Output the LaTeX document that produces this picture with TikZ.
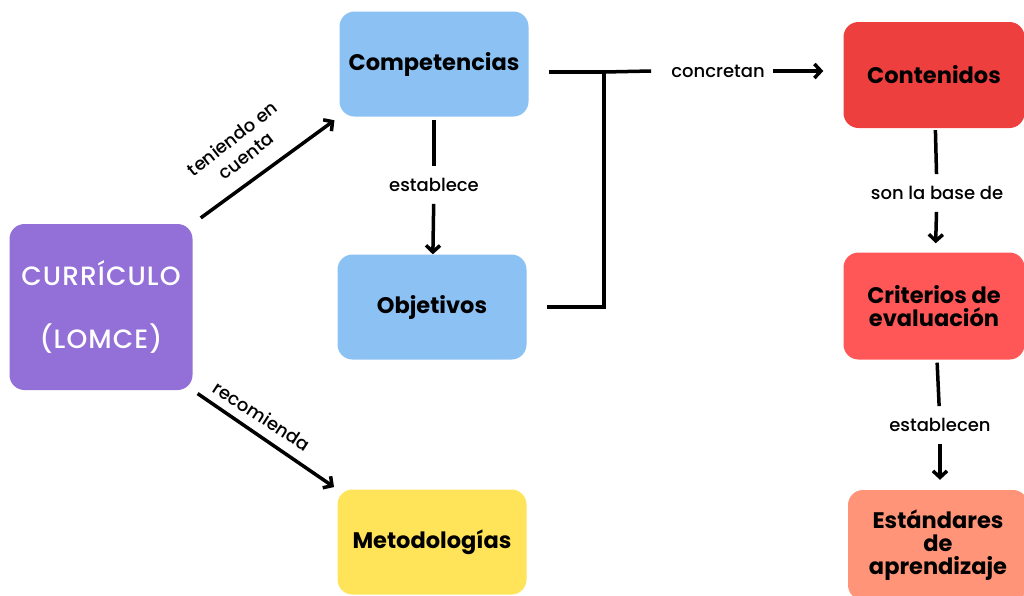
\documentclass[tikz,border=0pt]{standalone}
\usepackage{fontspec}
\setmainfont{Poppins}
\newfontfamily\medfont{Poppins Medium}
\usetikzlibrary{positioning, arrows.meta}

\definecolor{curripurple}{HTML}{936FD8}
\definecolor{compblue}{HTML}{8CC1F4}
\definecolor{metyellow}{HTML}{FFE45A}
\definecolor{contred}{HTML}{EE3F3F}
\definecolor{critred}{HTML}{FF5757}
\definecolor{estsalmon}{HTML}{FF9478}

\begin{document}
\begin{tikzpicture}[
    x=1pt, y=-1pt,
    every node/.style={font=\medfont\fontsize{18}{20}\selectfont},
    box/.style={rounded corners=15pt, fill=#1, minimum width=189pt, minimum height=105pt,
        align=center, font=\fontsize{22.5}{23}\selectfont\bfseries},
    link/.style={line width=3.5pt},
    arrow/.style={-{Straight Barb[length=6.5pt, width=14pt]}, line width=3.5pt},
    tag/.style={inner xsep=6pt, inner ysep=12pt}
]
\useasboundingbox (0,0) rectangle (1024,595);

% Boxes
\node[box=curripurple, minimum width=183pt, minimum height=166pt, text=white,
    font=\medfont\fontsize{26.5}{63}\selectfont\addfontfeature{LetterSpace=4}] (curr) at (101,307) {CURRÍCULO\\(LOMCE)};
\node[box=compblue] (comp) at (434,64) {Competencias};
\node[box=compblue] (obj) at (432,307) {Objetivos};
\node[box=metyellow] (met) at (432,542) {Metodologías};
\node[box=contred, minimum width=181pt, minimum height=106pt] (cont) at (934,75) {Contenidos};
\node[box=critred, minimum width=181pt, minimum height=107pt] (crit) at (934,306) {Criterios de\\evaluación};
\node[box=estsalmon, minimum width=180pt, minimum height=110pt] (est) at (938,545) {Estándares\\de\\aprendizaje};

% Labels
\node[tag] (lblEst) at (434,185) {establece};
\node[tag, inner xsep=20pt] (lblConc) at (718,71) {concretan};
\node[tag] (lblBase) at (937,193) {son la base de};
\node[tag] (lblEsts) at (940,425) {establecen};
\node[rotate=38, align=center, font=\medfont\fontsize{18}{22}\selectfont] (lblTen) at (239,147) {teniendo en\\cuenta};
\node[rotate=-33] (lblRec) at (262,416) {recomienda};

% Arrows with labels
\draw[arrow, shorten <=10pt, shorten >=6pt] (curr.north east) -- (comp.south west);
\draw[arrow, shorten <=6pt, shorten >=4pt] (curr.south east) -- (met.north west);
\draw[link, shorten <=3pt] (comp) -- (lblEst);
\draw[arrow] (lblEst) -- (obj);

\coordinate (jTop) at (604,72);
\draw[link] ([xshift=20pt, yshift=-8pt]comp.east) -- (jTop) |- ([xshift=20pt]obj.east);
\draw[link] (jTop) -- (lblConc.west);
\draw[arrow, shorten <=-12pt, shorten >=20pt] (lblConc.east) -- (lblConc.east -| cont.west);

\draw[link, shorten <=2pt] (cont) -- (lblBase);
\draw[arrow, shorten >=9pt] (lblBase) -- (crit);
\draw[link, shorten <=3pt] ([xshift=3pt]crit.south) -- (lblEsts);
\draw[arrow, shorten >=10pt] (lblEsts) -- ([xshift=2pt]est.north);

\end{tikzpicture}
\end{document}
